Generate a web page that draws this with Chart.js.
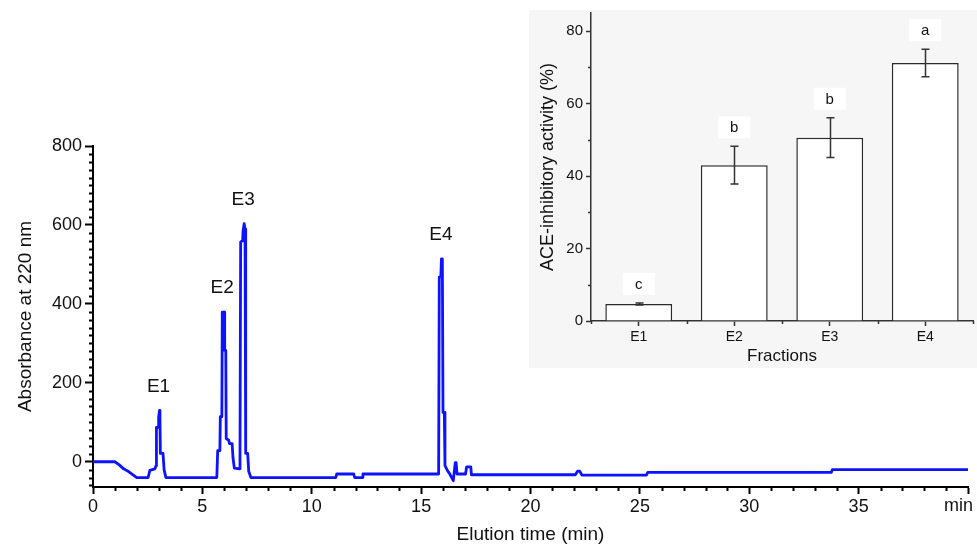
<!DOCTYPE html>
<html>
<head>
<meta charset="utf-8">
<script src="https://cdn.jsdelivr.net/npm/chart.js@4.4.1/dist/chart.umd.min.js"></script>
<style>
    body { margin: 0; background: #ffffff; }
    #wrap { position: relative; width: 977px; height: 547px; }
    #mainChart { position: absolute; left: 0; top: 0; }
    #insetBox { position: absolute; left: 529px; top: 10px; width: 448px; height: 358px; }
</style>
</head>
<body>
<div id="wrap">
    <canvas id="mainChart" width="977" height="547"></canvas>
    <div id="insetBox"><canvas id="insetChart" width="448" height="358"></canvas></div>
</div>
<script>
// chromatogram
const elutionTime = [
    0, 1.0, 1.2, 1.4, 1.6, 1.75, 2.0, 2.52, 2.6, 2.83, 2.88, 2.9, 2.98, 3.0, 3.04, 3.06, 3.08, 3.2, 3.25, 3.33,
    5.66, 5.7, 5.8, 5.82, 5.89, 5.91, 6.0, 6.02, 6.07, 6.09, 6.2, 6.24, 6.36, 6.4, 6.46, 6.7,
    6.72, 6.75, 6.84, 6.86, 6.91, 6.95, 6.98, 7.07, 7.12, 7.22,
    11.1, 11.14, 11.92, 11.96, 12.3, 12.34,
    15.8, 15.83, 15.9, 15.93, 15.97, 16.0, 16.06, 16.09, 16.2, 16.3, 16.47, 16.56, 16.6, 16.64, 17.03, 17.08, 17.27, 17.3,
    22.05, 22.15, 22.25, 22.35, 25.3, 25.36, 33.75, 33.8, 40
];
const absorbance = [
    0, 0, -8, -18, -24, -30, -40, -40, -22, -18, -10, 87, 87, 112, 130, 112, 21, 21, -20, -40,
    -40, 28, 28, 114, 114, 379, 379, 282, 282, 58, 55, 46, 46, 10, -16, -18,
    20, 557, 560, 585, 603, 590, 21, 21, -25, -40,
    -40, -31, -31, -40, -40, -31,
    -31, 468, 470, 514, 514, 125, 125, -10, -22, -30, -48, -2, -2, -31, -31, -13, -13, -33,
    -33, -24, -24, -34, -34, -27, -27, -20, -20
];
const peakNames = ['E1', 'E2', 'E3', 'E4'];
const peakTime = [3.04, 5.95, 6.91, 15.95];
const peakHeight = [130, 379, 603, 514];
const timeTicks = [0, 5, 10, 15, 20, 25, 30, 35, 40];
const absTicks = [0, 200, 400, 600, 800];

// inset bar chart
const fractions = ['E1', 'E2', 'E3', 'E4'];
const inhibition = [4.7, 43.0, 50.6, 71.2];
const inhibitionSd = [0.3, 5.2, 5.5, 3.8];
const significance = ['c', 'b', 'b', 'a'];
const inhibitionTicks = [0, 20, 40, 60, 80];

const FONT = 'Liberation Sans, Arial, sans-serif';

// minor ticks + peak labels for the chromatogram
const mainExtras = {
    id: 'mainExtras',
    afterDraw(chart) {
        const ctx = chart.ctx;
        const xs = chart.scales.x;
        const ys = chart.scales.y;
        const area = chart.chartArea;
        ctx.save();
        ctx.strokeStyle = '#000';
        ctx.lineWidth = 2;
        ctx.beginPath();
        for (let v = 1; v < 40; v++) {
            if (v % 5 === 0) continue;
            const px = Math.round(xs.getPixelForValue(v)) + 0.5;
            ctx.moveTo(px, area.bottom);
            ctx.lineTo(px, area.bottom + 4);
        }
        for (let v = -60; v < 800; v += 20) {
            if (v % 200 === 0) continue;
            const py = Math.round(ys.getPixelForValue(v)) + 0.5;
            ctx.moveTo(area.left, py);
            ctx.lineTo(area.left - 4, py);
        }
        ctx.stroke();

        ctx.fillStyle = '#111';
        ctx.font = '19px ' + FONT;
        ctx.textAlign = 'center';
        ctx.textBaseline = 'middle';
        peakNames.forEach((name, i) => {
            const px = xs.getPixelForValue(peakTime[i]);
            const py = ys.getPixelForValue(peakHeight[i]);
            ctx.fillText(name, px - 1, py - 24);
        });

        // last x label reads "min"
        ctx.font = '18px ' + FONT;
        ctx.textAlign = 'right';
        ctx.fillText('min', xs.getPixelForValue(40) + 5, area.bottom + 19);
        ctx.restore();
    }
};

const mainChart = new Chart(document.getElementById('mainChart'), {
    type: 'line',
    data: {
        datasets: [{
            data: elutionTime.map((t, i) => ({ x: t, y: absorbance[i] })),
            borderColor: '#0d12ff',
            borderWidth: 2.8,
            borderJoinStyle: 'round',
            pointRadius: 0,
            tension: 0,
            fill: false
        }]
    },
    options: {
        responsive: false,
        animation: false,
        devicePixelRatio: 1,
        layout: { padding: { top: 146, right: 9, left: 0, bottom: 0 } },
        plugins: { legend: { display: false }, tooltip: { enabled: false } },
        scales: {
            x: {
                type: 'linear',
                min: 0,
                max: 40,
                afterFit: s => { s.height = 60; },
                afterBuildTicks: s => { s.ticks = timeTicks.map(v => ({ value: v })); },
                ticks: {
                    color: '#111',
                    font: { family: FONT, size: 18 },
                    padding: 2,
                    maxRotation: 0,
                    autoSkip: false,
                    callback: v => (v === 40 ? '' : v)
                },
                grid: { drawOnChartArea: false, drawTicks: true, tickLength: 7, tickColor: '#000', tickWidth: 2 },
                border: { display: true, color: '#000', width: 2 },
                title: { display: true, text: 'Elution time (min)', color: '#111', font: { family: FONT, size: 19 }, padding: { bottom: 1 } }
            },
            y: {
                min: -64,
                max: 800,
                afterFit: s => { s.width = 93; },
                afterBuildTicks: s => { s.ticks = absTicks.map(v => ({ value: v })); },
                ticks: { color: '#111', font: { family: FONT, size: 18 }, padding: 3 },
                grid: { drawOnChartArea: false, drawTicks: true, tickLength: 8, tickColor: '#000', tickWidth: 2 },
                border: { display: true, color: '#000', width: 2 },
                title: { display: true, text: 'Absorbance at 220 nm', color: '#111', font: { family: FONT, size: 19 }, padding: { top: 14 } }
            }
        }
    },
    plugins: [mainExtras]
});

// background, error bars, letters, minor ticks for the inset
const insetExtras = {
    id: 'insetExtras',
    beforeDraw(chart) {
        const ctx = chart.ctx;
        ctx.save();
        ctx.fillStyle = '#f6f6f6';
        ctx.fillRect(0, 0, chart.width, chart.height);
        ctx.restore();
    },
    afterDraw(chart) {
        const ctx = chart.ctx;
        const xs = chart.scales.x;
        const ys = chart.scales.y;
        const area = chart.chartArea;
        ctx.save();
        ctx.strokeStyle = '#333';
        ctx.lineWidth = 1.5;
        ctx.beginPath();
        for (let v = 10; v < 85; v += 20) {
            const py = Math.round(ys.getPixelForValue(v)) + 0.5;
            ctx.moveTo(area.left, py);
            ctx.lineTo(area.left - 3, py);
        }
        for (let i = 0; i <= fractions.length; i++) {
            const px = Math.round(xs.getPixelForValue(i - 0.5)) + 0.5;
            ctx.moveTo(px, area.bottom);
            ctx.lineTo(px, area.bottom + 3);
        }
        ctx.stroke();

        // error bars
        ctx.beginPath();
        inhibition.forEach((v, i) => {
            const px = Math.round(xs.getPixelForValue(i)) + 0.5;
            const top = ys.getPixelForValue(v + inhibitionSd[i]);
            const bot = ys.getPixelForValue(v - inhibitionSd[i]);
            ctx.moveTo(px, top);
            ctx.lineTo(px, bot);
            ctx.moveTo(px - 4, top);
            ctx.lineTo(px + 4, top);
            ctx.moveTo(px - 4, bot);
            ctx.lineTo(px + 4, bot);
        });
        ctx.stroke();

        // significance letters on white patches
        ctx.font = '15px ' + FONT;
        ctx.textAlign = 'center';
        ctx.textBaseline = 'middle';
        inhibition.forEach((v, i) => {
            const px = xs.getPixelForValue(i);
            const py = ys.getPixelForValue(v + inhibitionSd[i]) - 18;
            ctx.fillStyle = '#ffffff';
            ctx.fillRect(px - 16, py - 12, 32, 22);
            ctx.fillStyle = '#111';
            ctx.fillText(significance[i], px, py);
        });
        ctx.restore();
    }
};

const insetChart = new Chart(document.getElementById('insetChart'), {
    type: 'bar',
    data: {
        labels: fractions,
        datasets: [{
            data: inhibition,
            backgroundColor: '#ffffff',
            borderColor: '#2a2a2a',
            borderWidth: 1.5,
            barPercentage: 0.7,
            categoryPercentage: 1.0
        }]
    },
    options: {
        responsive: false,
        animation: false,
        devicePixelRatio: 1,
        layout: { padding: { top: 3, right: 4, left: 0, bottom: 0 } },
        plugins: { legend: { display: false }, tooltip: { enabled: false } },
        scales: {
            x: {
                afterFit: s => { s.height = 47; },
                ticks: { color: '#111', font: { family: FONT, size: 14 }, padding: 3 },
                grid: { offset: false, drawOnChartArea: false, drawTicks: true, tickLength: 5, tickColor: '#333', tickWidth: 1.5 },
                border: { display: true, color: '#333', width: 1.5 },
                title: { display: true, text: 'Fractions', color: '#111', font: { family: FONT, size: 17 }, padding: { bottom: 1 } }
            },
            y: {
                min: 0,
                max: 85,
                // top tick is 80, not the axis end, so drop the label padding
                afterFit: s => { s.width = 62; s.paddingTop = 0; s.paddingBottom = 0; },
                afterBuildTicks: s => { s.ticks = inhibitionTicks.map(v => ({ value: v })); },
                ticks: { color: '#111', font: { family: FONT, size: 15 }, padding: 3 },
                grid: { drawOnChartArea: false, drawTicks: true, tickLength: 5, tickColor: '#333', tickWidth: 1.5 },
                border: { display: true, color: '#333', width: 1.5 },
                title: { display: true, text: 'ACE-inhibitory activity (%)', color: '#111', font: { family: FONT, size: 18 }, padding: { top: 8 } }
            }
        }
    },
    plugins: [insetExtras]
});
</script>
</body>
</html>
